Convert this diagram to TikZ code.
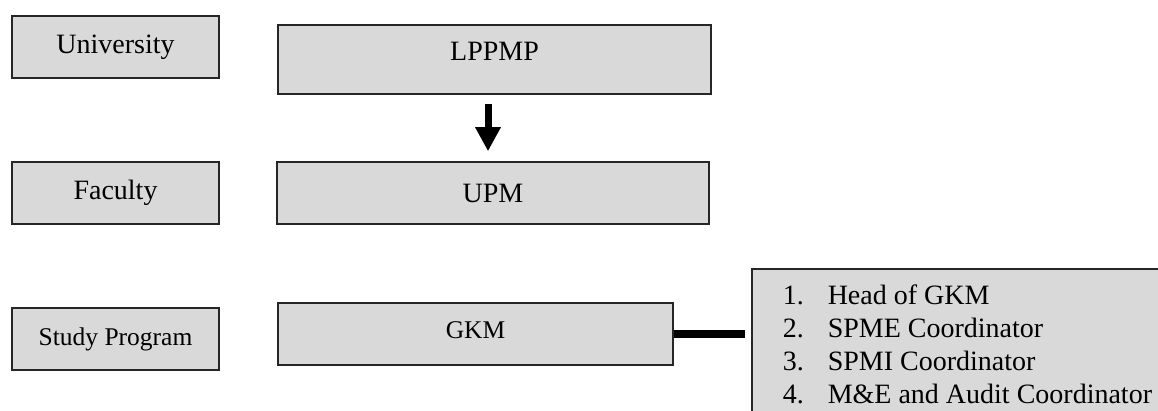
\documentclass[tikz,border=0pt]{standalone}
\usepackage{fontspec}
\setmainfont{Liberation Serif}
\usetikzlibrary{arrows.meta,calc}

\tikzset{
    level/.style={draw=black!85, line width=1.5pt, fill=black!15,
        minimum width=207pt, minimum height=62pt, inner sep=0pt,
        font=\fontsize{28}{33}\selectfont},
    small/.style={font=\fontsize{25.5}{30}\selectfont},
    dutybox/.style={level, anchor=north west, inner xsep=31pt, inner ysep=16pt},
    flow/.style={line width=7pt, -{Triangle[width=24pt,length=24pt]}},
    link/.style={line width=8pt},
}

\begin{document}
\begin{tikzpicture}[x=1pt, y=1pt]
        \useasboundingbox (0,0) rectangle (1158,410);
        \clip (0,0) rectangle (1158,410);

        \node[level] (uni) at (115.5,363) {University};
        \node[level] (fac) at (115.5,217) {Faculty};
        \node[level, small] (prog) at (115.5,71) {Study Program};

        \node[level, minimum width=433pt, minimum height=69pt, text height=20pt, text depth=17pt] (lppmp) at (494.5,350.5) {LPPMP};
        \node[level, minimum width=432pt] (upm) at (493,217) {UPM};
        \node[level, small, minimum width=395pt, text depth=8pt] (gkm) at (475.5,76) {GKM};

        \node[dutybox] (duty) at (751,142) {\begin{minipage}[t][150pt][t]{380pt}
            \fontsize{28}{33}\selectfont\setlength{\parindent}{0pt}%
            \makebox[45pt][l]{1.}Head of GKM\\
            \makebox[45pt][l]{2.}SPME Coordinator\\
            \makebox[45pt][l]{3.}SPMI Coordinator\\
            \makebox[45pt][l]{4.}M\&E and Audit Coordinator
        \end{minipage}};

        \draw[flow] ([xshift=-6.5pt, yshift=-9pt]lppmp.south) -- ([xshift=-5pt, yshift=10pt]upm.north);
        \draw[link] (gkm.east) -- ($(gkm.east -| duty.west)+(-6pt,0)$);
\end{tikzpicture}
\end{document}
